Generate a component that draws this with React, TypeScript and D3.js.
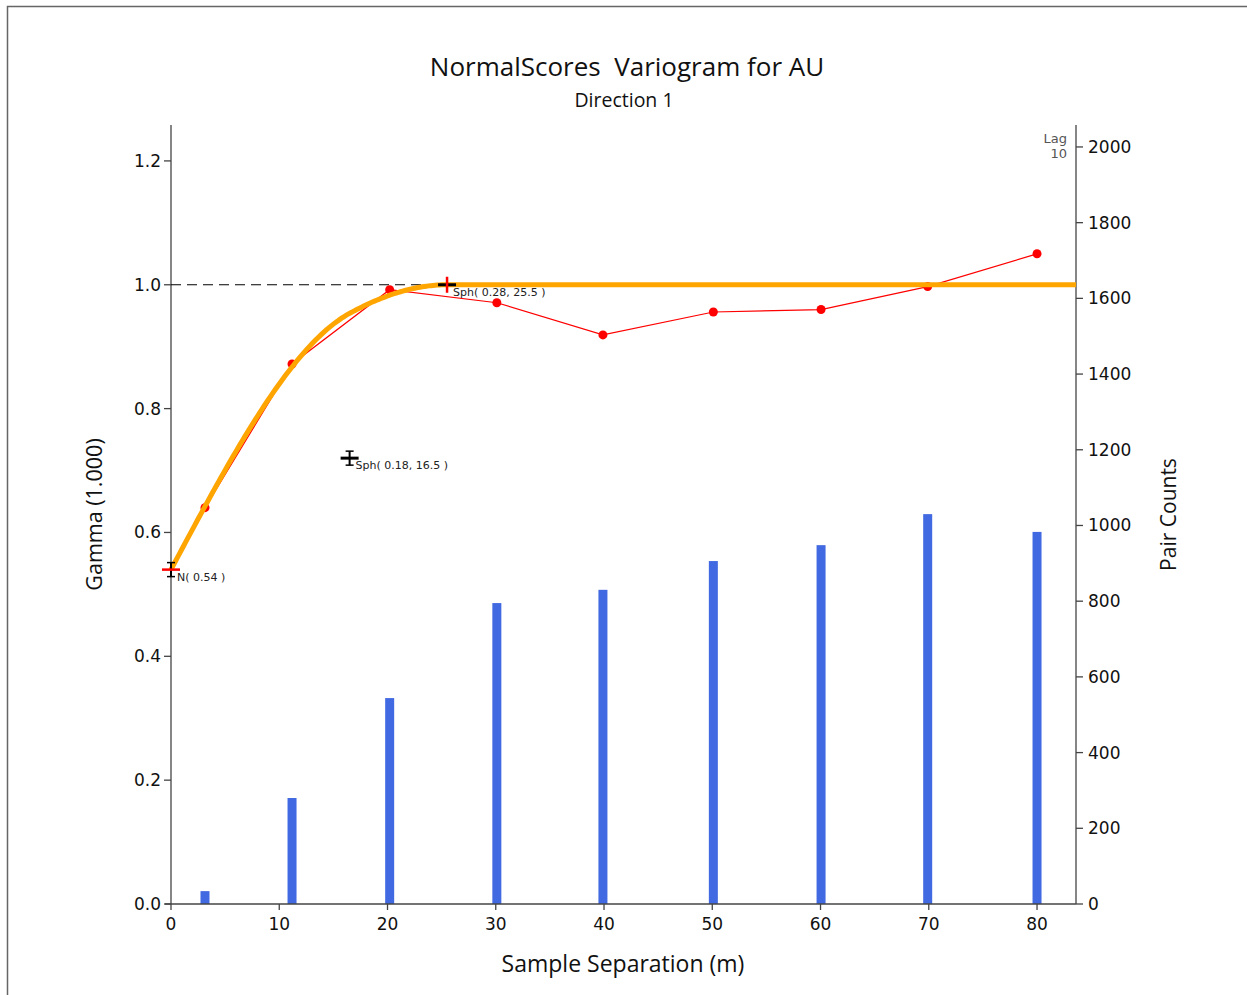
import React from "react";
import * as d3 from "d3";

// Experimental variogram (lag distance, gamma, pair counts)
const lagDistances = [3.14, 11.18, 20.2, 30.1, 39.9, 50.1, 60.05, 69.9, 80.0];
const gammaValues = [0.64, 0.872, 0.992, 0.971, 0.919, 0.956, 0.96, 0.997, 1.05];
const pairCounts = [34, 280, 544, 795, 830, 906, 948, 1030, 983];

// Model: nugget + two spherical structures
const nugget = 0.54;
const structSills = [0.18, 0.28];
const structRanges = [16.5, 25.5];

const xTicks = [0, 10, 20, 30, 40, 50, 60, 70, 80];
const yTicks = [0, 0.2, 0.4, 0.6, 0.8, 1.0, 1.2];
const countTicks = [0, 200, 400, 600, 800, 1000, 1200, 1400, 1600, 1800, 2000];

const W = 1247;
const H = 995;
const left = 171;
const right = 1076;
const top = 125;
const bottom = 904;
const FONT = "'Open Sans', sans-serif";
const TICKFONT = "'DejaVu Sans', sans-serif";
const AX = "#444";

function sph(h: number, a: number) {
  if (h >= a) return 1;
  const r = h / a;
  return 1.5 * r - 0.5 * r * r * r;
}
function model(h: number) {
  let g = nugget;
  structSills.forEach((c, i) => {
    g += c * sph(h, structRanges[i]);
  });
  return g;
}

export default function App() {
  const x = d3.scaleLinear().domain([0, 83.6]).range([left, right]);
  const y = d3.scaleLinear().domain([0, 1.258]).range([bottom, top]);
  const yc = d3.scaleLinear().domain([0, 2058]).range([bottom, top]);

  const modelPts: [number, number][] = d3
    .range(0, 83.6 + 0.001, 0.2)
    .map((h) => [h, model(h)] as [number, number]);
  const modelLine = d3
    .line<[number, number]>()
    .x((d) => x(d[0]))
    .y((d) => y(d[1]))(modelPts) as string;

  const expLine = d3
    .line<number>()
    .x((_, i) => x(lagDistances[i]))
    .y((d) => y(d))(gammaValues) as string;

  const sill = nugget + structSills[0] + structSills[1];
  const barW = 9;

  // markers
  const m1x = x(structRanges[0]);
  const m1y = y(nugget + structSills[0]);
  const m2x = x(structRanges[1]);
  const m2y = y(sill);
  const n0x = x(0);
  const n0y = y(nugget);

  const Ibeam = (cx: number, cy: number) => (
    <g stroke="#000" strokeWidth={1.5}>
      <line x1={cx} x2={cx} y1={cy - 7} y2={cy + 7} strokeWidth={2} />
      <line x1={cx - 4} x2={cx + 4} y1={cy - 7} y2={cy - 7} />
      <line x1={cx - 4} x2={cx + 4} y1={cy + 7} y2={cy + 7} />
    </g>
  );

  return (
    <svg
      width={W}
      height={H}
      style={{ position: "absolute", left: 0, top: 0, display: "block", background: "#fff" }}
      fontFamily={FONT}
    >
      <rect x={7.5} y={6.5} width={W + 10} height={H + 10} fill="none" stroke="#666" strokeWidth={1.5} />

      <text x={627} y={76} textAnchor="middle" fontSize={26} fill="#111" style={{ whiteSpace: "pre" }}>
        {"NormalScores  Variogram for AU"}
      </text>
      <text x={624} y={107} textAnchor="middle" fontSize={19.5} fill="#111">
        Direction 1
      </text>

      {/* bars */}
      {pairCounts.map((c, i) => (
        <rect
          key={i}
          x={x(lagDistances[i]) - barW / 2}
          y={yc(c)}
          width={barW}
          height={bottom - yc(c)}
          fill="#4169E1"
        />
      ))}

      {/* axes */}
      <g stroke={AX} strokeWidth={1.3}>
        <line x1={left} x2={left} y1={top} y2={bottom} />
        <line x1={right} x2={right} y1={top} y2={bottom} />
        <line x1={left - 6} x2={right} y1={bottom} y2={bottom} />
        {yTicks.map((t) => (
          <line key={"yt" + t} x1={left - 7} x2={left} y1={y(t)} y2={y(t)} />
        ))}
        {xTicks.map((t) => (
          <line key={"xt" + t} x1={x(t)} x2={x(t)} y1={bottom} y2={bottom + 6} />
        ))}
        {countTicks.map((t) => (
          <line key={"ct" + t} x1={right} x2={right + 7} y1={yc(t)} y2={yc(t)} />
        ))}
      </g>
      <g fontSize={17} fill="#111" fontFamily={TICKFONT}>
        {yTicks.map((t) => (
          <text key={"yl" + t} x={left - 10} y={y(t) + 6} textAnchor="end">
            {t.toFixed(1)}
          </text>
        ))}
        {xTicks.map((t) => (
          <text key={"xl" + t} x={x(t)} y={bottom + 26} textAnchor="middle">
            {t}
          </text>
        ))}
        {countTicks.map((t) => (
          <text key={"cl" + t} x={right + 12} y={yc(t) + 6} textAnchor="start">
            {t}
          </text>
        ))}
      </g>
      <text x={623} y={972} textAnchor="middle" fontSize={23} fill="#111">
        Sample Separation (m)
      </text>
      <text
        transform={`translate(102,${(top + bottom) / 2}) rotate(-90)`}
        textAnchor="middle"
        fontSize={21.5}
        fill="#111"
      >
        Gamma (1.000)
      </text>
      <text
        transform={`translate(1176,${(top + bottom) / 2}) rotate(-90)`}
        textAnchor="middle"
        fontSize={21}
        fill="#111"
      >
        Pair Counts
      </text>
      <g fontSize={13} fill="#555" textAnchor="end" fontFamily={TICKFONT}>
        <text x={1067} y={143}>Lag</text>
        <text x={1067} y={158}>10</text>
      </g>

      {/* sill dashed */}
      <line
        x1={x(0)}
        x2={m2x}
        y1={y(sill)}
        y2={y(sill)}
        stroke="#000"
        strokeWidth={1.2}
        strokeDasharray="10,6"
      />

      {/* experimental */}
      <path d={expLine} fill="none" stroke="#FF0000" strokeWidth={1.2} />
      {gammaValues.map((g, i) => (
        <circle key={i} cx={x(lagDistances[i])} cy={y(g)} r={4.5} fill="#FF0000" />
      ))}

      {/* model */}
      <path d={modelLine} fill="none" stroke="#FFA500" strokeWidth={5} strokeLinejoin="round" />

      {/* nugget marker */}
      {Ibeam(n0x, n0y)}
      <line x1={n0x - 9} x2={n0x + 9} y1={n0y} y2={n0y} stroke="#FF0000" strokeWidth={2.5} />
      <text x={n0x + 6} y={n0y + 11} fontSize={11} fill="#222" fontFamily={TICKFONT}>
        N( 0.54 )
      </text>

      {/* structure 1 marker */}
      {Ibeam(m1x, m1y)}
      <line x1={m1x - 9} x2={m1x + 9} y1={m1y} y2={m1y} stroke="#000" strokeWidth={3} />
      <text x={m1x + 6} y={m1y + 11} fontSize={11} fill="#222" fontFamily={TICKFONT}>
        Sph( 0.18, 16.5 )
      </text>

      {/* structure 2 marker */}
      <line x1={m2x - 9} x2={m2x + 9} y1={m2y} y2={m2y} stroke="#000" strokeWidth={3} />
      <line x1={m2x} x2={m2x} y1={m2y - 8} y2={m2y + 8} stroke="#FF0000" strokeWidth={2.5} />
      <text x={m2x + 6} y={m2y + 11} fontSize={11} fill="#222" fontFamily={TICKFONT}>
        Sph( 0.28, 25.5 )
      </text>
    </svg>
  );
}
